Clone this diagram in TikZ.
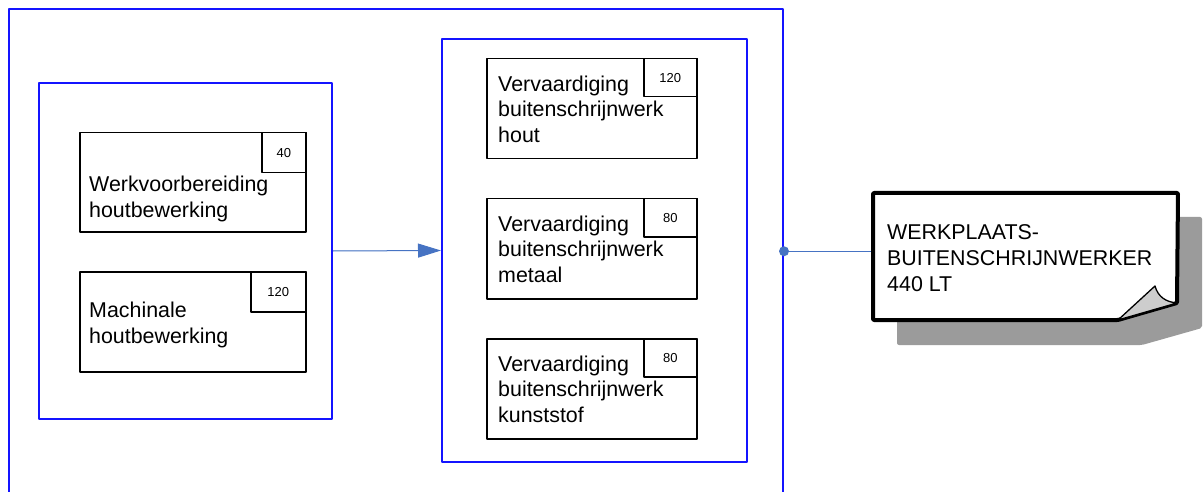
\documentclass[tikz,border=0pt]{standalone}
\usepackage{fontspec}
\setmainfont{Liberation Sans}
\usepackage{tikz}
\usetikzlibrary{arrows.meta}
\usetikzlibrary{positioning}
\usetikzlibrary{calc}
\definecolor{groepblauw}{RGB}{20,20,255}
\definecolor{lijnblauw}{RGB}{70,115,195}
\definecolor{schaduw}{RGB}{155,155,155}
\definecolor{krul}{RGB}{205,205,205}

\begin{document}
\begin{tikzpicture}[line join=round,x=1pt,y=-1pt,>={Triangle[length=23pt,width=14pt]},
  groep/.style={draw=groepblauw,line width=2pt,anchor=north west,inner sep=0pt},
  taak/.style={draw=black,line width=1.5pt,anchor=north west,inner sep=0pt,minimum height=100pt},
  getal/.style={draw=black,line width=1.5pt,anchor=north east,inner sep=0pt,font=\fontsize{13}{15}\selectfont},
  taaktekst/.style={anchor=north west,inner sep=0pt,align=left,font=\fontsize{21.4}{25.5}\selectfont},
  verbinding/.style={draw=lijnblauw,line width=1pt}]
\useasboundingbox (0,0) rectangle (1203,492);
\clip (0,0) rectangle (1203,492);
% groepen
\node[groep,minimum width=774pt,minimum height=484.5pt] (buiten) at (8,8) {};
\node[groep,minimum width=293pt,minimum height=336pt] (links) at (38,82) {};
\node[groep,minimum width=305pt,minimum height=423pt] (rechts) at (441,38) {};
% taken links
\node[taak,minimum width=226pt,minimum height=99pt] (w1) at (79,132) {};
\node[getal,minimum width=44pt,minimum height=40pt] (g1) at (w1.north east) {40};
\node[taaktekst] (w1t) at ($(w1.north west)+(10,44)$) {Werkvoorbereiding\\houtbewerking};
\node[taak,minimum width=226pt] (w2) at (79,271) {};
\node[getal,minimum width=55pt,minimum height=40pt] (g2) at (w2.north east) {120};
\node[taaktekst] (w2t) at ($(w2.north west)+(10,31)$) {Machinale\\houtbewerking};
% taken rechts
\node[taak,minimum width=210pt] (v1) at (486,58) {};
\node[taak,minimum width=210pt,below=38.5pt of v1] (v2) {};
\node[taak,minimum width=210pt,below=38.5pt of v2] (v3) {};
\node[getal,minimum width=53pt,minimum height=38pt] (g3) at (v1.north east) {120};
\node[getal,minimum width=53pt,minimum height=38pt] (g4) at (v2.north east) {80};
\node[getal,minimum width=53pt,minimum height=38pt] (g5) at (v3.north east) {80};
\node[taaktekst] (v1t) at ($(v1.north west)+(12,17.5)$) {Vervaardiging\\buitenschrijnwerk\\hout};
\node[taaktekst] (v2t) at ($(v2.north west)+(12,17.5)$) {Vervaardiging\\buitenschrijnwerk\\metaal};
\node[taaktekst] (v3t) at ($(v3.north west)+(12,17.5)$) {Vervaardiging\\buitenschrijnwerk\\kunststof};
% verbindingen
\draw[verbinding,->,fill=lijnblauw] (links.east) -- (rechts.west);
\fill[schaduw,rounded corners=2pt] (897,217) -- (1202,217) -- (1202,328) -- (1142,345) -- (897,345) -- cycle;
\node[anchor=north west,minimum width=305pt,minimum height=127pt,inner sep=0pt] (noot) at (873,193) {};
\draw[verbinding] (buiten.east) -- (buiten.east -| noot.west);
\draw[line width=4pt,fill=white,rounded corners=1pt] (873,193) -- (1178,193) -- (1177,303) -- (1118,320) -- (873,320) -- cycle;
\draw[line width=1.3pt,fill=krul] (1118,320) -- (1155,286) .. controls (1158,297) and (1166,302) .. (1177,303) -- cycle;
\node[taaktekst,font=\fontsize{21.4}{26}\selectfont] (noottekst) at (887,224) {WERKPLAATS-\\BUITENSCHRIJNWERKER\\440 LT};
\fill[lijnblauw] (buiten.east) circle (5pt);
\end{tikzpicture}
\end{document}
